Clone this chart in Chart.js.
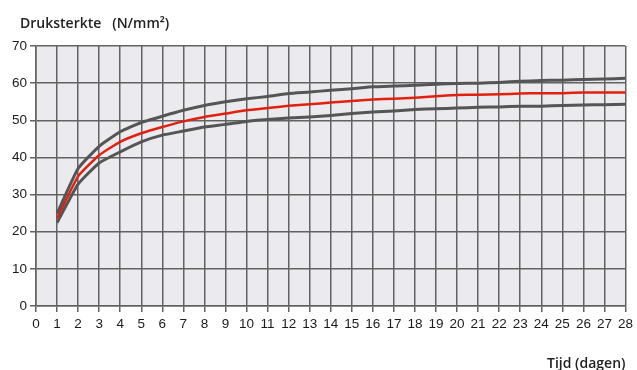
<!DOCTYPE html>
<html>
<head>
<meta charset="utf-8">
<script src="https://cdn.jsdelivr.net/npm/chart.js@4/dist/chart.umd.min.js"></script>
<style>
  html, body { margin: 0; padding: 0; background: #ffffff; }
  #wrap { width: 637px; height: 370px; position: relative; }
</style>
</head>
<body>
<div id="wrap"><canvas id="c" width="637" height="370"></canvas></div>
<script>
// Days (x-axis categories)
const days = ['0','1','2','3','4','5','6','7','8','9','10','11','12','13','14','15','16','17','18','19','20','21','22','23','24','25','26','27','28'];
// Upper band (gray)
const upperValues = [null, 24.9, 37.0, 43.0, 46.9, 49.4, 51.1, 52.7, 54.0, 55.0, 55.8, 56.4, 57.2, 57.6, 58.1, 58.5, 59.0, 59.2, 59.4, 59.7, 59.9, 60.0, 60.2, 60.5, 60.7, 60.8, 61.0, 61.1, 61.3];
// Mean (red)
const meanValues = [null, 23.6, 34.9, 40.6, 44.2, 46.5, 48.2, 49.7, 50.9, 51.8, 52.7, 53.3, 53.9, 54.3, 54.8, 55.2, 55.6, 55.8, 56.1, 56.5, 56.8, 56.9, 57.0, 57.2, 57.3, 57.3, 57.5, 57.5, 57.5];
// Lower band (gray)
const lowerValues = [null, 22.4, 32.8, 38.5, 41.5, 44.2, 46.0, 47.1, 48.2, 48.9, 49.7, 50.2, 50.6, 50.9, 51.3, 51.8, 52.2, 52.5, 52.9, 53.1, 53.3, 53.5, 53.6, 53.8, 53.8, 54.0, 54.1, 54.2, 54.3];
// Y tick range
const yMin = 0, yMax = 70, yStep = 10;
// Texts
const yTitle = 'Druksterkte   (N/mm²)';
const xTitle = 'Tijd (dagen)';

const plotBg = {
  id: 'plotBg',
  beforeDraw(chart) {
    const {ctx, chartArea: a} = chart;
    ctx.save();
    ctx.fillStyle = '#ebebef';
    ctx.fillRect(a.left, a.top, a.right - a.left, a.bottom - a.top);
    ctx.restore();
  }
};

const topTitle = {
  id: 'topTitle',
  afterDraw(chart) {
    const ctx = chart.ctx;
    ctx.save();
    ctx.fillStyle = '#222222';
    ctx.font = '600 14px "Open Sans"';
    ctx.textAlign = 'left';
    ctx.textBaseline = 'middle';
    ctx.fillText(yTitle, 20, 24);
    ctx.restore();
  }
};

const gridColor = '#626262';

new Chart(document.getElementById('c'), {
  type: 'line',
  data: {
    labels: days,
    datasets: [
      { label: 'Boven', data: upperValues, borderColor: '#555555', borderWidth: 3, pointRadius: 0, tension: 0.15 },
      { label: 'Gemiddeld', data: meanValues, borderColor: '#e2200f', borderWidth: 2.5, pointRadius: 0, tension: 0.15 },
      { label: 'Onder', data: lowerValues, borderColor: '#555555', borderWidth: 3, pointRadius: 0, tension: 0.15 }
    ]
  },
  options: {
    responsive: false,
    animation: false,
    devicePixelRatio: 1,
    layout: { padding: { left: 0, right: 9, top: 46, bottom: 0 } },
    plugins: {
      legend: { display: false },
      tooltip: { enabled: false },
      title: { display: false }
    },
    scales: {
      x: {
        type: 'category',
        offset: false,
        grid: { color: gridColor, lineWidth: 1.5, tickLength: 6, tickColor: gridColor, drawTicks: true },
        border: { color: gridColor, width: 1.5 },
        ticks: { color: '#1a1a1a', font: { family: 'Liberation Sans', size: 13.5 }, padding: 4, maxRotation: 0, autoSkip: false },
        title: {
          display: true,
          text: xTitle,
          align: 'end',
          color: '#222222',
          font: { family: 'Open Sans', size: 14, weight: '600' },
          padding: { top: 0, bottom: -2 }
        },
        afterFit(scale) { scale.height = 64; }
      },
      y: {
        min: yMin, max: yMax,
        grid: { color: gridColor, lineWidth: 1.5, tickLength: 6, tickColor: gridColor },
        border: { color: gridColor, width: 1.5 },
        ticks: { stepSize: yStep, color: '#1a1a1a', font: { family: 'Liberation Sans', size: 13.5 }, padding: 3 },
        afterFit(scale) { scale.width = 36; }
      }
    }
  },
  plugins: [plotBg, topTitle]
});
</script>
</body>
</html>
